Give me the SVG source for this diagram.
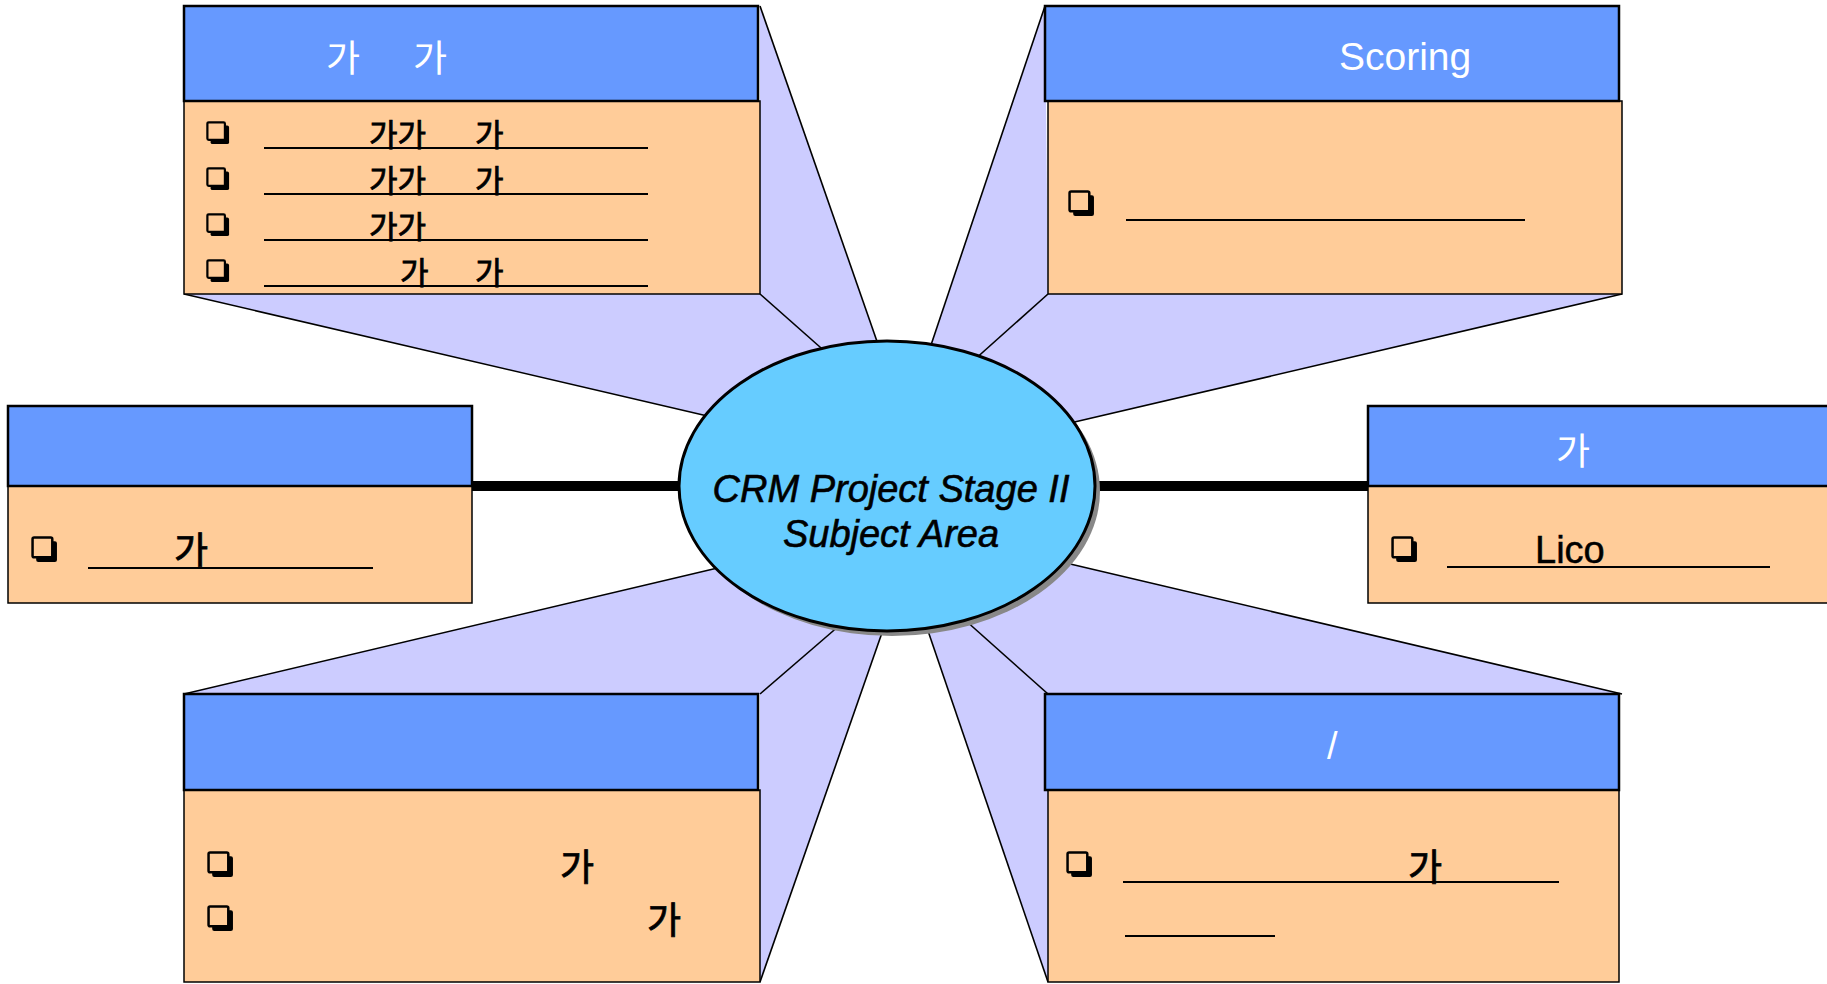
<svg xmlns="http://www.w3.org/2000/svg" xmlns:xlink="http://www.w3.org/1999/xlink" width="1827" height="984" viewBox="0 0 1827 984">
<style>
.hdr{fill:#6699FF;stroke:#000;stroke-width:2.5}
.body{fill:#FFCC99;stroke:#000;stroke-width:1.5}
.wedge{fill:#CCCCFF;stroke:none}
.edge{stroke:#000;stroke-width:1.6;fill:none}
.bar{stroke:#000;stroke-width:10}
.ul{stroke:#000;stroke-width:2.2}
.kw{font-family:"Noto Sans CJK KR","Noto Sans",sans-serif;fill:#fff}
.kb{font-family:"Noto Sans CJK KR","Noto Sans",sans-serif;fill:#000;stroke:#000;stroke-width:0.8}
.lw{font-family:"Liberation Sans",Arial,sans-serif;fill:#fff}
.lb{font-family:"Liberation Sans",Arial,sans-serif;fill:#000;stroke:#000;stroke-width:0.5}
.ctr{font-family:"Liberation Sans",Arial,sans-serif;font-style:italic;fill:#000;stroke:#000;stroke-width:0.6;font-size:38px;text-anchor:middle}
</style>
<defs>
<symbol id="cb" viewBox="0 0 26 26">
<rect x="5" y="5" width="20" height="20" rx="2" fill="#000"/>
<rect x="1.5" y="1.5" width="19" height="19" rx="1.5" fill="#FFCC99" stroke="#000" stroke-width="2.4"/>
</symbol>
</defs>
<rect width="1827" height="984" fill="#fff"/>

<g id="projections">
<polygon class="wedge" points="760,6 880,350 829,355 760,294"/>
<polygon class="wedge" points="184,294 760,294 829,355 716,418"/>
<polygon class="wedge" points="1045,6 929,351 973,361 1048,294"/>
<polygon class="wedge" points="1048,294 1622,294 1066,424 973,361"/>
<polygon class="wedge" points="184,694 760,694 840,625 726,566"/>
<polygon class="wedge" points="760,694 840,625 884,627 760,982"/>
<polygon class="wedge" points="1048,694 1048,982 926,625 965,620"/>
<polygon class="wedge" points="1048,694 1622,694 1066,563 965,620"/>
<line class="edge" x1="760" y1="6" x2="880" y2="350"/>
<line class="edge" x1="760" y1="294" x2="829" y2="355"/>
<line class="edge" x1="184" y1="294" x2="716" y2="418"/>
<line class="edge" x1="1045" y1="6" x2="929" y2="351"/>
<line class="edge" x1="1048" y1="294" x2="973" y2="361"/>
<line class="edge" x1="1622" y1="294" x2="1066" y2="424"/>
<line class="edge" x1="184" y1="694" x2="726" y2="566"/>
<line class="edge" x1="760" y1="694" x2="840" y2="625"/>
<line class="edge" x1="760" y1="982" x2="884" y2="627"/>
<line class="edge" x1="1048" y1="694" x2="965" y2="620"/>
<line class="edge" x1="1048" y1="982" x2="926" y2="625"/>
<line class="edge" x1="1622" y1="694" x2="1066" y2="563"/>
</g>

<g id="connectors">
<line class="bar" x1="472" y1="486" x2="700" y2="486"/>
<line class="bar" x1="1080" y1="486" x2="1368" y2="486"/>
</g>

<g id="center">
<ellipse cx="892" cy="491" rx="208" ry="145" fill="#888"/>
<ellipse cx="887" cy="486" rx="208" ry="145" fill="#66CCFF" stroke="#000" stroke-width="3"/>
<text class="ctr" x="891" y="502">CRM Project Stage II</text>
<text class="ctr" x="891" y="547">Subject Area</text>
</g>

<g id="box-top-left">
<rect class="body" x="184" y="101" width="576" height="193"/>
<rect class="hdr" x="184" y="6" width="574" height="95"/>
<text class="kw" font-size="37" y="72"><tspan x="326">가</tspan><tspan x="413">가</tspan></text>
<use href="#cb" x="206" y="121" width="24" height="24"/>
<use href="#cb" x="206" y="167" width="24" height="24"/>
<use href="#cb" x="206" y="213" width="24" height="24"/>
<use href="#cb" x="206" y="259" width="24" height="24"/>
<line class="ul" x1="264" y1="148" x2="648" y2="148"/>
<line class="ul" x1="264" y1="194" x2="648" y2="194"/>
<line class="ul" x1="264" y1="240" x2="648" y2="240"/>
<line class="ul" x1="264" y1="286" x2="648" y2="286"/>
<text class="kb" font-size="31" y="146"><tspan x="369">가가</tspan><tspan x="475">가</tspan></text>
<text class="kb" font-size="31" y="192"><tspan x="369">가가</tspan><tspan x="475">가</tspan></text>
<text class="kb" font-size="31" y="238"><tspan x="369">가가</tspan></text>
<text class="kb" font-size="31" y="284"><tspan x="400">가</tspan><tspan x="475">가</tspan></text>
</g>

<g id="box-top-right">
<rect class="body" x="1048" y="101" width="574" height="193"/>
<rect class="hdr" x="1045" y="6" width="574" height="95"/>
<text class="lw" font-size="39" x="1339" y="70">Scoring</text>
<use href="#cb" x="1068" y="190" width="27" height="27"/>
<line class="ul" x1="1126" y1="220" x2="1525" y2="220"/>
</g>

<g id="box-middle-left">
<rect class="body" x="8" y="486" width="464" height="117"/>
<rect class="hdr" x="8" y="406" width="464" height="80"/>
<use href="#cb" x="31" y="536" width="27" height="27"/>
<line class="ul" x1="88" y1="568" x2="373" y2="568"/>
<text class="kb" font-size="37" x="174" y="564">가</text>
</g>

<g id="box-middle-right">
<rect class="body" x="1368" y="486" width="470" height="117"/>
<rect class="hdr" x="1368" y="406" width="470" height="80"/>
<text class="kw" font-size="37" x="1556" y="465">가</text>
<use href="#cb" x="1391" y="536" width="27" height="27"/>
<line class="ul" x1="1447" y1="567" x2="1770" y2="567"/>
<text class="lb" font-size="38" x="1535" y="563">Lico</text>
</g>

<g id="box-bottom-left">
<rect class="body" x="184" y="790" width="576" height="192"/>
<rect class="hdr" x="184" y="694" width="574" height="96"/>
<use href="#cb" x="207" y="851" width="27" height="27"/>
<use href="#cb" x="207" y="905" width="27" height="27"/>
<text class="kb" font-size="37" x="560" y="881">가</text>
<text class="kb" font-size="37" x="647" y="934">가</text>
</g>

<g id="box-bottom-right">
<rect class="body" x="1048" y="790" width="571" height="192"/>
<rect class="hdr" x="1045" y="694" width="574" height="96"/>
<text class="lw" font-size="38" x="1327" y="759">/</text>
<use href="#cb" x="1066" y="851" width="27" height="27"/>
<line class="ul" x1="1123" y1="882" x2="1559" y2="882"/>
<line class="ul" x1="1125" y1="936" x2="1275" y2="936"/>
<text class="kb" font-size="37" x="1408" y="881">가</text>
</g>
</svg>
